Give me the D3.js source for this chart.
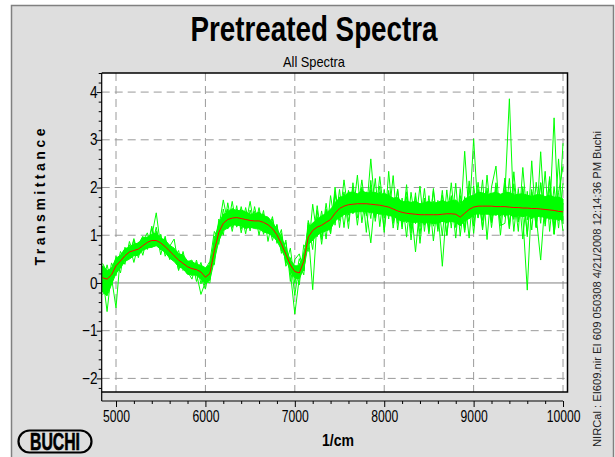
<!DOCTYPE html>
<html>
<head>
<meta charset="utf-8">
<script src="https://cdn.jsdelivr.net/npm/d3@7"></script>
<style>
  body { margin: 0; background: #fff; }
  svg text { font-family: "Liberation Sans", Arial, sans-serif; fill: #000; }
</style>
</head>
<body>
<div id="canvas"></div>
<script>
// wavenumber grid (1/cm)
const wavenumbers = [
  4850, 4900, 4950, 5000, 5050, 5100, 5150, 5200, 5250, 5300,
  5350, 5400, 5450, 5500, 5550, 5600, 5650, 5700, 5750, 5800,
  5850, 5900, 5950, 6000, 6050, 6100, 6150, 6200, 6250, 6300,
  6350, 6400, 6450, 6500, 6550, 6600, 6650, 6700, 6750, 6800,
  6850, 6900, 6950, 7000, 7050, 7100, 7150, 7200, 7250, 7300,
  7350, 7400, 7450, 7500, 7550, 7600, 7650, 7700, 7750, 7800,
  7850, 7900, 7950, 8000, 8050, 8100, 8150, 8200, 8250, 8300,
  8350, 8400, 8450, 8500, 8550, 8600, 8650, 8700, 8750, 8800,
  8850, 8900, 8950, 9000, 9050, 9100, 9150, 9200, 9250, 9300,
  9350, 9400, 9450, 9500, 9550, 9600, 9650, 9700, 9750, 9800,
  9850, 9900, 9950, 10000
];

// mean spectrum (red)
const meanSpectrum = [
  0.11, 0.08, 0.17, 0.36, 0.46, 0.57, 0.65, 0.68, 0.71, 0.78,
  0.85, 0.89, 0.89, 0.84, 0.76, 0.67, 0.57, 0.48, 0.41, 0.34,
  0.30, 0.28, 0.23, 0.12, 0.20, 0.68, 1.06, 1.25, 1.33, 1.36,
  1.37, 1.35, 1.33, 1.31, 1.30, 1.30, 1.27, 1.22, 1.14, 1.01,
  0.82, 0.60, 0.38, 0.24, 0.21, 0.45, 0.96, 1.10, 1.17, 1.21,
  1.27, 1.33, 1.46, 1.56, 1.61, 1.64, 1.65, 1.66, 1.66, 1.66,
  1.65, 1.64, 1.63, 1.61, 1.59, 1.55, 1.51, 1.48, 1.46, 1.45,
  1.44, 1.43, 1.43, 1.43, 1.43, 1.43, 1.44, 1.45, 1.45, 1.44,
  1.38, 1.46, 1.54, 1.59, 1.61, 1.61, 1.61, 1.61, 1.60, 1.60,
  1.60, 1.59, 1.58, 1.58, 1.57, 1.57, 1.56, 1.56, 1.55, 1.54,
  1.53, 1.52, 1.50, 1.49
];

// spread of the dense bundle above / below the mean (hundredths)
const bandUpper = [
  25, 18, 14, 16, 12, 15, 10, 14, 12, 16,
  11, 13, 15, 10, 14, 12, 16, 13, 18, 12,
  15, 11, 14, 20, 18, 22, 20, 18, 15, 20,
  14, 18, 16, 13, 15, 18, 14, 16, 13, 12,
  14, 12, 10, 12, 15, 14, 18, 16, 15, 20,
  18, 22, 19, 24, 20, 26, 25, 21, 27, 23,
  24, 26, 22, 27, 24, 23, 28, 22, 25, 24,
  27, 23, 25, 28, 24, 26, 29, 24, 27, 30,
  26, 30, 27, 25, 29, 28, 24, 27, 30, 26,
  29, 31, 26, 28, 30, 27, 25, 29, 30, 27,
  31, 28, 30, 27
];
const bandLower = [
  30, 35, 20, 16, 14, 12, 15, 11, 13, 10,
  12, 14, 11, 13, 12, 15, 12, 14, 11, 16,
  13, 12, 15, 14, 14, 20, 18, 15, 18, 14,
  16, 15, 19, 14, 16, 17, 20, 18, 15, 13,
  12, 10, 12, 14, 12, 15, 16, 20, 17, 15,
  18, 20, 16, 19, 18, 16, 18, 15, 17, 16,
  18, 17, 19, 16, 18, 15, 17, 19, 16, 18,
  17, 15, 18, 16, 19, 17, 15, 18, 16, 17,
  18, 16, 19, 17, 15, 18, 16, 19, 17, 15,
  18, 16, 19, 17, 18, 16, 19, 17, 15, 18,
  17, 19, 16, 18
];

// individual spectra with spikes, offset from the mean (hundredths)
const spectrumA = [
  5, -68, 8, -5, 10, 4, -6, 12, -3, 7,
  -4, 9, 58, -8, 5, -10, 6, -4, 12, -7,
  3, -9, 6, -12, 8, 15, 10, 49, -6, 9,
  -5, 8, -11, 6, -4, 10, -7, 5, -9, 6,
  -8, 12, -15, -89, -10, 18, -6, 9, -12, 7,
  15, -9, 20, -14, 10, -18, 22, -8, 14, -20,
  95, -12, 18, -25, 9, 16, -20, 12, -15, 24,
  -10, 18, -22, 14, -8, 20, -16, 25, -12, 10,
  -18, 130, -15, 20, -24, 16, -10, 22, -19, 14,
  25, 227, -20, 18, -12, 26, -22, 15, -18, 20,
  -14, 194, -20, 18
];
const spectrumB = [
  -20, 10, -6, -88, 12, -8, 6, -10, 9, -5,
  11, -7, 4, -12, 8, -6, 10, -9, 5, -11,
  7, -8, -47, -10, 12, -15, 18, -8, 22, -12,
  9, -14, 6, -10, 12, -8, 15, -11, 7, -13,
  10, -16, 8, -12, 14, -20, 10, -124, 16, -10,
  20, -14, 25, -18, 12, -22, 16, -12, 30, -15,
  -81, 20, -16, 24, -12, 18, -26, 14, -20, 16,
  -79, 22, -14, 18, -24, 12, -109, 20, -16, 25,
  -12, 18, -20, 143, -15, 22, -18, 26, -14, 20,
  -22, 16, -25, 20, -18, -172, 24, -16, -107, 22,
  -20, 26, -18, 144
];
const spectrumC = [
  30, 15, -10, 20, -15, 12, -8, 25, -12, 18,
  -10, 30, -8, 15, -14, 10, 35, -12, 8, -15,
  12, -10, 20, -6, 25, 40, -14, 30, -20, 15,
  -18, 25, -12, 40, -15, 20, -25, 12, -18, 22,
  -20, 30, -35, 25, 40, -20, 35, -15, 22, -30,
  28, -20, 45, -15, 30, -35, 25, -18, 50, -25,
  30, -28, 60, -20, 35, -40, 25, -22, 45, -30,
  38, -25, 55, -35, 28, -30, 40, -20, 65, -28,
  35, -40, 25, -22, 50, -30, 38, -45, 28, -20,
  60, -35, 30, -50, 85, -25, 40, -38, 55, -30,
  70, -40, 110, -25
];
const spectrumD = [
  -35, -25, 15, -20, 10, -18, 22, -10, 15, -20,
  12, -15, 20, -25, 18, -12, 10, -20, 25, -8,
  -15, 20, -12, -25, 15, -20, 28, -15, 20, -28,
  18, -22, 25, -15, 20, -30, 18, -12, 25, -18,
  22, -25, 15, -50, 20, -28, 30, -22, 35, -40,
  25, -30, 40, -25, 55, -20, 35, -45, 30, -22,
  40, -35, 28, -50, 30, -25, 45, -30, 35, -55,
  28, -40, 35, -28, 50, -35, 30, -45, 38, -25,
  45, -30, 60, -40, 35, -50, 30, -35, 40, -60,
  35, -45, 50, -30, 40, -55, 35, -40, 120, -35,
  45, -50, 30, -40
];
const spectrumE = [
  10, -20, 25, -15, 20, -10, 15, -25, 10, 20,
  -15, 25, -10, 18, -20, 12, -8, 20, -15, 10,
  18, -25, 12, -8, -20, 30, -25, 20, -15, 35,
  -20, 15, -30, 22, -12, 28, -18, 10, -25, 20,
  -15, 25, -20, 10, -25, 35, -30, 55, -20, 30,
  -35, 50, -25, 40, -45, 30, -20, 60, -40, 25,
  -30, 55, -45, 35, -25, 70, -40, 30, -50, 45,
  -20, 60, -35, 40, -55, 30, -45, 50, -30, 65,
  -40, 35, -60, 45, -25, 55, -70, 40, 85, -35,
  50, -45, 75, -30, 45, -60, 100, -40, 55, -25,
  65, -50, 40, 95
];
const spectrumF = [
  -15, 30, -20, 12, -25, 18, -12, 22, -18, 10,
  20, -12, 28, -15, 22, -18, 14, -22, 18, -10,
  -22, 15, -25, 18, 25, -30, 20, -25, 35, -20,
  25, -30, 15, -22, 30, -15, 25, -35, 20, -15,
  30, -20, 35, -25, 30, -20, 25, -40, 45, -25,
  40, -30, 55, -40, 25, -50, 45, -30, 35, -60,
  50, -25, 40, -55, 75, -30, 45, -35, 60, -40,
  45, -60, 30, -40, 55, -25, 50, -45, 35, -50,
  60, -35, 45, -55, 30, -45, 65, -30, 50, -40,
  -35, 60, -50, 40, -65, 35, -45, 55, -30, 80,
  -45, 50, -35, 60
];

const xTicks = [5000, 6000, 7000, 8000, 9000, 10000];
const yTicks = [-2, -1, 0, 1, 2, 3, 4];

const width = 615;
const height = 457;

const canvas = d3.select("#canvas");
const svg = canvas.append("svg").attr("width", width).attr("height", height);

// grey frame
svg.append("rect")
  .attr("x", 11.5).attr("y", 5.5)
  .attr("width", 602).attr("height", 455)
  .style("fill", "#dedede")
  .style("stroke", "#808080")
  .style("stroke-width", 1.5);

const x = d3.scaleLinear().domain([4840, 10050]).range([101.7, 567.5]);
const y = d3.scaleLinear().domain([-2.285, 4.4]).range([392, 73]);

const [px0, px1] = x.range();
const [py1, py0] = y.range();

// plot area
svg.append("rect")
  .attr("x", px0).attr("y", py0)
  .attr("width", px1 - px0).attr("height", py1 - py0)
  .style("fill", "#fff");

svg.append("clipPath").attr("id", "clip")
  .append("rect")
  .attr("x", px0).attr("y", py0)
  .attr("width", px1 - px0).attr("height", py1 - py0);

// grid
const grid = svg.append("g");
grid.selectAll("line.v").data(xTicks).enter().append("line")
  .attr("x1", d => x(d)).attr("x2", d => x(d))
  .attr("y1", py0).attr("y2", py1)
  .style("stroke", "#9a9a9a").style("stroke-dasharray", "8,5");
grid.selectAll("line.h").data(yTicks.filter(d => d !== 0)).enter().append("line")
  .attr("x1", px0).attr("x2", px1)
  .attr("y1", d => y(d)).attr("y2", d => y(d))
  .style("stroke", "#9a9a9a").style("stroke-dasharray", "8,5");
grid.append("line")
  .attr("x1", px0).attr("x2", px1)
  .attr("y1", y(0)).attr("y2", y(0))
  .style("stroke", "#808080");

// spectra
const plot = svg.append("g").attr("clip-path", "url(#clip)");

const band = wavenumbers.map((w, i) => ({
  w,
  lo: meanSpectrum[i] - bandLower[i] / 100,
  hi: meanSpectrum[i] + bandUpper[i] / 100
}));

plot.append("path")
  .datum(band)
  .attr("d", d3.area().x(d => x(d.w)).y0(d => y(d.lo)).y1(d => y(d.hi)))
  .style("fill", "#00ff00")
  .style("stroke", "#00ff00")
  .style("stroke-width", 1);

const line = d3.line().x(d => x(d[0])).y(d => y(d[1]));

[spectrumE, spectrumF, spectrumC, spectrumD, spectrumA, spectrumB].forEach(s => {
  plot.append("path")
    .datum(wavenumbers.map((w, i) => [w, meanSpectrum[i] + s[i] / 100]))
    .attr("d", line)
    .style("fill", "none")
    .style("stroke", "#00ff00")
    .style("stroke-width", 1);
});

plot.append("path")
  .datum(wavenumbers.map((w, i) => [w, meanSpectrum[i]]))
  .attr("d", line)
  .style("fill", "none")
  .style("stroke", "#ff0000")
  .style("stroke-width", 1);

// box border (top, right, bottom)
svg.append("path")
  .attr("d", `M${px0},${py0}H${px1}V${py1}H${px0}`)
  .style("fill", "none")
  .style("stroke", "#000")
  .style("stroke-width", 1.5);

// x axis, slightly below the box
const xAxisY = 401;
const xg = svg.append("g").attr("transform", `translate(0,${xAxisY})`);
xg.append("line")
  .attr("x1", px0).attr("x2", x(10000))
  .style("stroke", "#000").style("stroke-width", 1.2);
xg.append("g")
  .call(d3.axisBottom(x)
    .tickValues(d3.range(5200, 10000, 200).filter(d => d % 1000 !== 0))
    .tickSize(3).tickFormat(""))
  .call(g => g.select(".domain").remove());
xg.append("g")
  .call(d3.axisBottom(x).tickValues(xTicks).tickSize(6).tickFormat(d3.format("d")))
  .call(g => g.select(".domain").remove())
  .call(g => g.selectAll("text")
    .attr("y", 10)
    .attr("font-size", 16)
    .attr("transform", "scale(0.76,1)"));

// y axis
const yg = svg.append("g").attr("transform", `translate(${px0},0)`);
yg.append("line")
  .attr("y1", py0).attr("y2", xAxisY)
  .style("stroke", "#000").style("stroke-width", 1.2);
yg.append("g")
  .call(d3.axisLeft(y)
    .tickValues(d3.range(-22, 45, 2).map(d => d / 10).filter(d => Math.abs(d % 1) > 0.01))
    .tickSize(3).tickFormat(""))
  .call(g => g.select(".domain").remove());
yg.append("g")
  .call(d3.axisLeft(y).tickValues(yTicks).tickSize(5).tickFormat(d3.format("d")))
  .call(g => g.select(".domain").remove())
  .call(g => g.selectAll("text")
    .attr("x", -5)
    .attr("font-size", 16)
    .attr("transform", "scale(0.85,1)"));

// titles
svg.append("text")
  .attr("x", 314).attr("y", 41)
  .attr("text-anchor", "middle")
  .attr("font-size", 35).attr("font-weight", "bold")
  .attr("textLength", 247).attr("lengthAdjust", "spacingAndGlyphs")
  .text("Pretreated Spectra");

svg.append("text")
  .attr("x", 314).attr("y", 67)
  .attr("text-anchor", "middle")
  .attr("font-size", 15)
  .attr("textLength", 62).attr("lengthAdjust", "spacingAndGlyphs")
  .text("All Spectra");

svg.append("text")
  .attr("transform", "translate(45,197) rotate(-90)")
  .attr("text-anchor", "middle")
  .attr("font-size", 14).attr("font-weight", "bold")
  .attr("textLength", 137).attr("lengthAdjust", "spacing")
  .text("Transmittance");

svg.append("text")
  .attr("x", 338).attr("y", 446)
  .attr("text-anchor", "middle")
  .attr("font-size", 16).attr("font-weight", "bold")
  .attr("textLength", 32).attr("lengthAdjust", "spacingAndGlyphs")
  .text("1/cm");

svg.append("text")
  .attr("transform", "translate(601,447) rotate(-90)")
  .attr("font-size", 10)
  .attr("textLength", 316).attr("lengthAdjust", "spacingAndGlyphs")
  .style("fill", "#222")
  .text("NIRCal : EI609.nir EI 609 050308 4/21/2008 12:14:36 PM Buchi");

// logo
const logo = svg.append("g").attr("transform", "translate(18,430)");
logo.append("rect")
  .attr("x", 0.5).attr("y", 0.5)
  .attr("width", 73).attr("height", 22).attr("rx", 11)
  .style("fill", "none").style("stroke", "#000").style("stroke-width", 2.2);
logo.append("text")
  .attr("x", 37).attr("y", 19.5)
  .attr("text-anchor", "middle")
  .attr("font-size", 23).attr("font-weight", "bold")
  .attr("textLength", 50).attr("lengthAdjust", "spacingAndGlyphs")
  .style("stroke", "#000").style("stroke-width", 0.6)
  .text("BUCHI");
</script>
</body>
</html>
